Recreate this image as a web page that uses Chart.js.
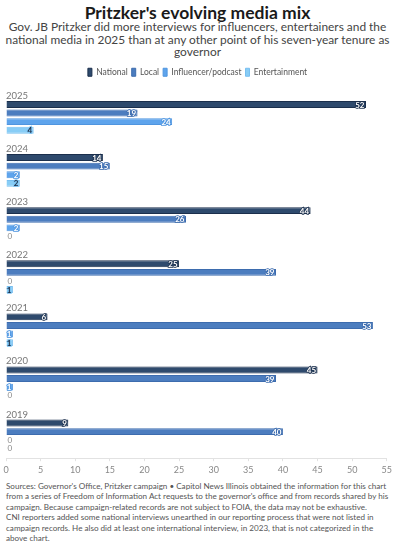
<!DOCTYPE html>
<html>
<head>
<meta charset="utf-8">
<script src="https://cdn.jsdelivr.net/npm/chart.js@4/dist/chart.umd.min.js"></script>
<style>
body{margin:0;width:395px;height:545px;background:#fff;font-family:Lato,sans-serif;overflow:hidden;position:relative}
h1{margin:0;position:absolute;top:2px;left:0;width:395px;text-align:center;font-size:17.5px;font-weight:700;color:#1a1a1a;line-height:22px}
.sub{position:absolute;top:21px;left:0;width:395px;text-align:center;font-size:11.9px;line-height:12.6px;color:#444}
#wrap{position:absolute;top:62px;left:0;width:395px;height:416px}
.foot{position:absolute;top:481px;left:6px;width:389px;font-size:8.1px;line-height:10.4px;color:#555}
</style>
</head>
<body>
<h1>Pritzker's evolving media mix</h1>
<div class="sub">Gov. JB Pritzker did more interviews for influencers, entertainers and the<br>national media in 2025 than at any other point of his seven-year tenure as<br>governor</div>
<div id="wrap"><canvas id="chart"></canvas></div>
<div class="foot">Sources: Governor's Office, Pritzker campaign • Capitol News Illinois obtained the information for this chart<br>from a series of Freedom of Information Act requests to the governor's office and from records shared by his<br>campaign. Because campaign-related records are not subject to FOIA, the data may not be exhaustive.<br>CNI reporters added some national interviews unearthed in our reporting process that were not listed in<br>campaign records. He also did at least one international interview, in 2023, that is not categorized in the<br>above chart.</div>
<script>
var years = ['2025', '2024', '2023', '2022', '2021', '2020', '2019'];
var national = [52, 14, 44, 25, 6, 45, 9];
var local = [19, 15, 26, 39, 53, 39, 40];
var influencer = [24, 2, 2, 0, 1, 1, 0];
var entertainment = [4, 2, 0, 1, 1, 0, 0];
var xTicks = [0, 5, 10, 15, 20, 25, 30, 35, 40, 45, 50, 55];

var colors = ['#2e4a6d', '#4c7dbf', '#5ea4ec', '#88cdf6'];
var borders = ['#1b2f4c', '#3d6cae', '#4f95df', '#78bff0'];
var labelColors = ['#fff', '#fff', '#fff', '#1d2d44'];

// slot 0 of every group is empty; the year label sits there
var spacer = years.map(function(){ return 0; });

var yearLabels = {
    id: 'yearLabels',
    afterDatasetsDraw: function(chart){
        var ctx = chart.ctx;
        var meta = chart.getDatasetMeta(0);
        ctx.save();
        ctx.font = '9.5px Lato';
        ctx.fillStyle = '#777';
        ctx.textAlign = 'left';
        ctx.textBaseline = 'middle';
        meta.data.forEach(function(el, i){
            ctx.fillText(years[i], chart.chartArea.left, el.y);
        });
        ctx.restore();
    }
};

var valueLabels = {
    id: 'valueLabels',
    afterDatasetsDraw: function(chart){
        var ctx = chart.ctx;
        ctx.save();
        ctx.textBaseline = 'middle';
        chart.data.datasets.forEach(function(ds, d){
            if (d === 0) return;
            var meta = chart.getDatasetMeta(d);
            meta.data.forEach(function(el, i){
                var v = ds.data[i];
                if (v === 0) {
                    ctx.font = '8px Lato';
                    ctx.fillStyle = '#888';
                    ctx.textAlign = 'left';
                    ctx.fillText('0', el.base + 1.5, el.y);
                } else {
                    ctx.font = 'bold 8px Lato';
                    ctx.textAlign = 'right';
                    ctx.lineWidth = 1.5;
                    ctx.strokeStyle = borders[d - 1];
                    ctx.strokeText(String(v), el.x - 1.5, el.y + 0.5);
                    ctx.fillStyle = labelColors[d - 1];
                    ctx.fillText(String(v), el.x - 1.5, el.y + 0.5);
                }
            });
        });
        ctx.restore();
    }
};

function series(label, data, i){
    return {
        label: label,
        data: data,
        backgroundColor: colors[i],
        borderColor: borders[i],
        borderWidth: 1,
        categoryPercentage: 0.81,
        barPercentage: 0.8
    };
}

var ctx = document.getElementById('chart').getContext('2d');
window.zx = new Chart(ctx, {
    type: 'bar',
    data: {
        labels: years,
        datasets: [
            {label: 'year', data: spacer, backgroundColor: 'rgba(0,0,0,0)', borderWidth: 0, categoryPercentage: 0.81, barPercentage: 0.8},
            series('National', national, 0),
            series('Local', local, 1),
            series('Influencer/podcast', influencer, 2),
            series('Entertainment', entertainment, 3)
        ]
    },
    options: {
        indexAxis: 'y',
        responsive: true,
        maintainAspectRatio: false,
        animation: false,
        layout: {padding: {left: 6, right: 6, top: 2, bottom: 0}},
        scales: {
            x: {
                min: 0, max: 55,
                afterBuildTicks: function(axis){
                    axis.ticks = xTicks.map(function(v){ return {value: v}; });
                },
                grid: {display: true, drawOnChartArea: false, drawTicks: true, tickLength: 3, color: '#e2e2e2'},
                border: {display: true, color: '#e2e2e2'},
                ticks: {color: '#888', font: {family: 'Lato', size: 9}, padding: 3, maxRotation: 0}
            },
            y: {
                display: false
            }
        },
        plugins: {
            legend: {
                position: 'top',
                labels: {
                    filter: function(item){ return item.datasetIndex !== 0; },
                    boxWidth: 4,
                    boxHeight: 8,
                    padding: 4,
                    color: '#555',
                    font: {family: 'Lato', size: 8.5}
                }
            },
            tooltip: {enabled: false}
        }
    },
    plugins: [yearLabels, valueLabels]
});
</script>
</body>
</html>
